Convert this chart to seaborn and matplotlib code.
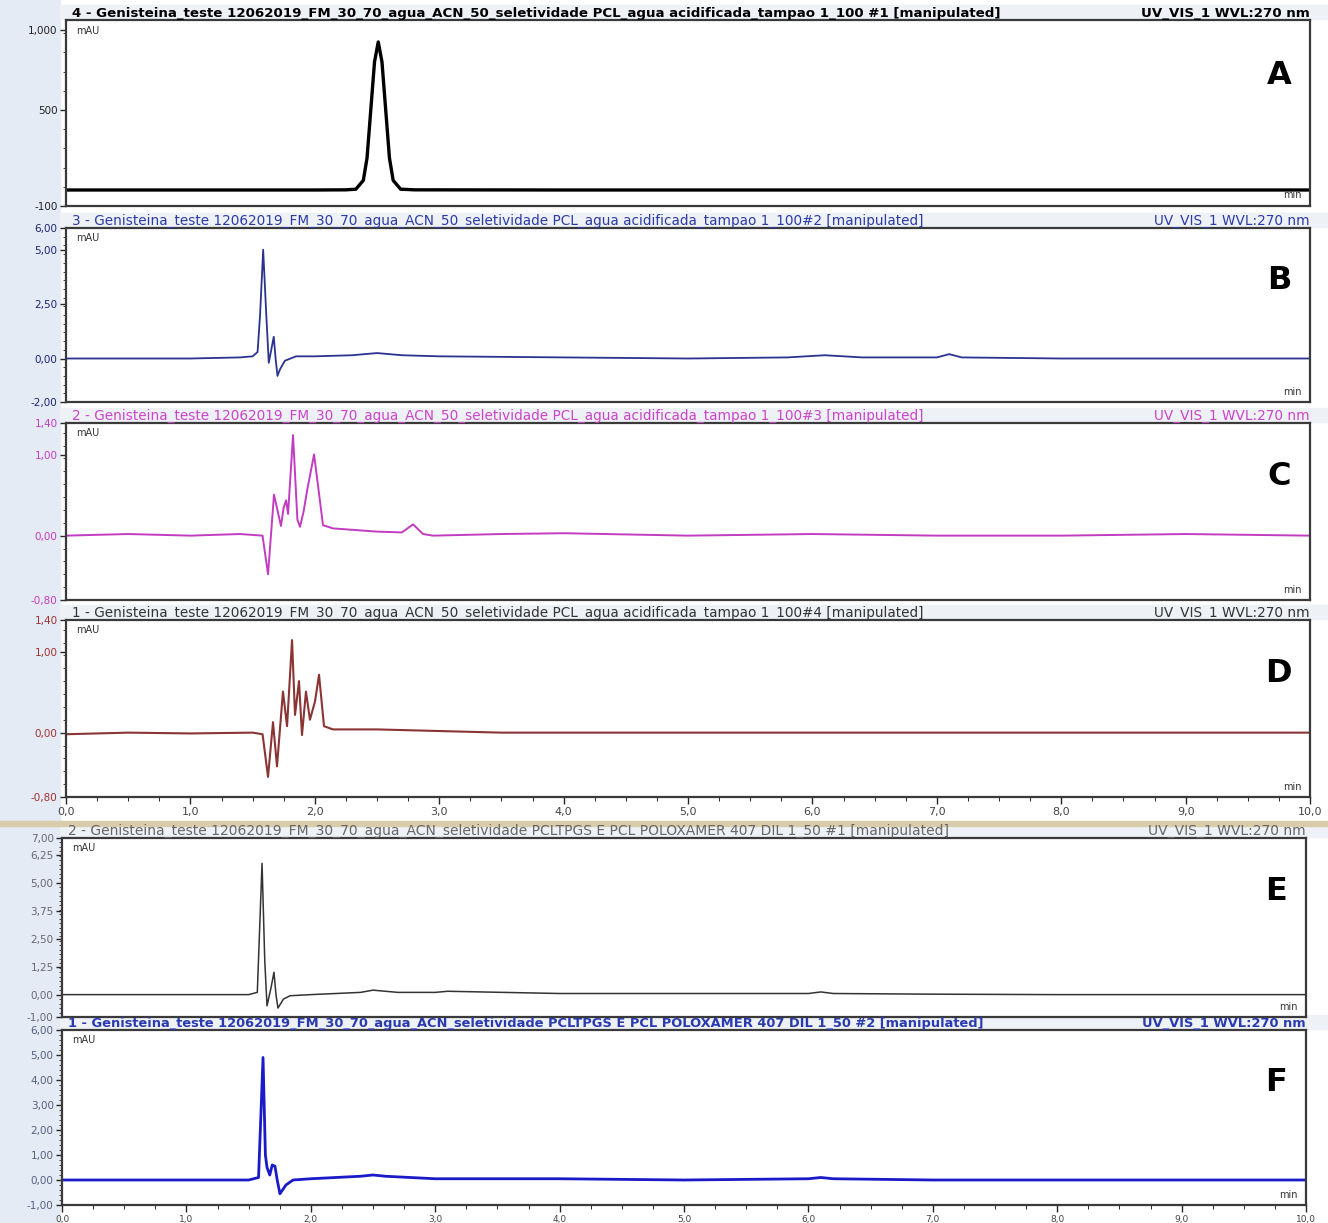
import numpy as np
import pandas as pd
import matplotlib
matplotlib.use("Agg")
import matplotlib.pyplot as plt
import seaborn as sns
from matplotlib.ticker import FixedLocator, AutoMinorLocator, FuncFormatter
from matplotlib.patches import Rectangle

# -----------------------
# Data (retention time in min, signal in mAU)
# -----------------------
a_time = [0.0, 1.0, 2.0, 2.25, 2.33, 2.39, 2.42, 2.45, 2.48, 2.51, 2.54, 2.57, 2.60, 2.63, 2.69, 2.8, 4.0, 6.0, 8.0, 10.0]
a_mau = [0, 0, 0, 1, 5, 60, 200, 500, 800, 925, 800, 500, 200, 60, 5, 1, 0, 0, 0, 0]

b_time = [0.0, 1.0, 1.4, 1.5, 1.54, 1.56, 1.585, 1.61, 1.63, 1.65, 1.67, 1.685, 1.70, 1.72, 1.76, 1.85, 2.0, 2.3, 2.5,
          2.7, 3.0, 4.0, 5.0, 5.8, 6.1, 6.4, 7.0, 7.1, 7.2, 8.0, 9.0, 10.0]
b_mau = [0.0, 0.0, 0.05, 0.1, 0.3, 2.0, 5.0, 2.0, -0.2, 0.4, 1.0, 0.0, -0.8, -0.5, -0.1, 0.1, 0.1, 0.15, 0.25,
         0.15, 0.1, 0.05, 0.0, 0.05, 0.15, 0.05, 0.05, 0.2, 0.05, 0.0, 0.0, 0.0]

c_time = [0.0, 0.5, 1.0, 1.4, 1.58, 1.624, 1.672, 1.728, 1.75, 1.769, 1.785, 1.825, 1.86, 1.881, 1.91, 1.937, 1.994,
          2.066, 2.146, 2.5, 2.7, 2.79, 2.87, 2.95, 3.5, 4.0, 5.0, 6.0, 7.0, 8.0, 9.0, 10.0]
c_mau = [0.0, 0.02, 0.0, 0.02, 0.0, -0.48, 0.51, 0.12, 0.35, 0.44, 0.27, 1.25, 0.2, 0.11, 0.3, 0.55, 1.01,
         0.13, 0.09, 0.05, 0.04, 0.14, 0.02, 0.0, 0.02, 0.03, 0.0, 0.02, 0.0, 0.0, 0.02, 0.0]

d_time = [0.0, 0.5, 1.0, 1.5, 1.58, 1.624, 1.664, 1.696, 1.744, 1.777, 1.817, 1.841, 1.873, 1.897, 1.929, 1.961,
          2.002, 2.034, 2.074, 2.146, 2.5, 3.0, 3.5, 4.0, 5.0, 6.0, 7.0, 8.0, 9.0, 10.0]
d_mau = [-0.02, 0.0, -0.01, 0.0, -0.02, -0.55, 0.13, -0.42, 0.51, 0.08, 1.15, 0.22, 0.64, -0.03, 0.51, 0.16,
         0.39, 0.72, 0.08, 0.04, 0.04, 0.02, 0.0, 0.0, 0.0, 0.0, 0.0, 0.0, 0.0, 0.0]

e_time = [0.0, 1.0, 1.5, 1.57, 1.608, 1.63, 1.648, 1.68, 1.704, 1.72, 1.736, 1.78, 1.833, 2.0, 2.4, 2.5, 2.7, 3.0,
          3.1, 4.0, 5.0, 6.0, 6.1, 6.2, 7.0, 8.0, 9.0, 10.0]
e_mau = [0.0, 0.0, 0.0, 0.1, 5.87, 1.5, -0.5, 0.3, 1.0, 0.0, -0.6, -0.2, -0.05, 0.0, 0.1, 0.2, 0.1, 0.1,
         0.15, 0.05, 0.05, 0.05, 0.12, 0.05, 0.02, 0.0, 0.0, 0.0]

f_time = [0.0, 1.0, 1.5, 1.58, 1.616, 1.635, 1.648, 1.67, 1.69, 1.712, 1.73, 1.752, 1.8, 1.857, 2.0, 2.4, 2.5, 2.6,
          3.0, 4.0, 5.0, 6.0, 6.1, 6.2, 7.0, 8.0, 9.0, 10.0]
f_mau = [0.0, 0.0, 0.0, 0.1, 4.9, 1.0, 0.5, 0.2, 0.6, 0.55, 0.0, -0.55, -0.2, 0.0, 0.05, 0.15, 0.2, 0.15,
         0.05, 0.05, 0.0, 0.05, 0.1, 0.05, 0.0, 0.0, 0.0, 0.0]

panel_letters = ["A", "B", "C", "D", "E", "F"]
headers = [
    "4 - Genisteina_teste 12062019_FM_30_70_agua_ACN_50_seletividade PCL_agua acidificada_tampao 1_100 #1 [manipulated]",
    "3 - Genisteina_teste 12062019_FM_30_70_agua_ACN_50_seletividade PCL_agua acidificada_tampao 1_100#2 [manipulated]",
    "2 - Genisteina_teste 12062019_FM_30_70_agua_ACN_50_seletividade PCL_agua acidificada_tampao 1_100#3 [manipulated]",
    "1 - Genisteina_teste 12062019_FM_30_70_agua_ACN_50_seletividade PCL_agua acidificada_tampao 1_100#4 [manipulated]",
    "2 - Genisteina_teste 12062019_FM_30_70_agua_ACN_seletividade PCLTPGS E PCL POLOXAMER 407 DIL 1_50 #1 [manipulated]",
    "1 - Genisteina_teste 12062019_FM_30_70_agua_ACN_seletividade PCLTPGS E PCL POLOXAMER 407 DIL 1_50 #2 [manipulated]",
]
detector = "UV_VIS_1 WVL:270 nm"
x_ticks = [0, 1, 2, 3, 4, 5, 6, 7, 8, 9, 10]
y_ticks = [
    [-100, 500, 1000],
    [-2, 0, 2.5, 5, 6],
    [-0.8, 0, 1.0, 1.4],
    [-0.8, 0, 1.0, 1.4],
    [-1, 0, 1.25, 2.5, 3.75, 5, 6.25, 7],
    [-1, 0, 1, 2, 3, 4, 5, 6],
]

# -----------------------
# Layout in pixels (left, top, right, bottom)
# -----------------------
W, H = 1328, 1223
boxes = [
    (66, 20, 1310, 206),
    (66, 228, 1310, 402),
    (66, 423, 1310, 600),
    (66, 620, 1310, 797),
    (62, 838, 1306, 1017),
    (62, 1030, 1306, 1205),
]
ylims = [(-100, 1062), (-2, 6), (-0.8, 1.4), (-0.8, 1.4), (-1, 7), (-1, 6)]
line_colors = ["#000000", "#2b3290", "#c23cc2", "#8a3434", "#333333", "#1a1ac8"]
line_widths = [2.4, 1.3, 1.4, 1.5, 1.1, 2.0]
label_colors = ["#222222", "#1c2470", "#c23cc2", "#a03030", "#666677", "#556080"]
header_colors = ["#000000", "#2a3aa8", "#cc44cc", "#333333", "#666666", "#2a3ab0"]
header_sizes = [9.6, 9.8, 9.8, 9.8, 10.0, 9.4]
header_bold = [True, False, False, False, False, True]

traces = [(a_time, a_mau), (b_time, b_mau), (c_time, c_mau),
          (d_time, d_mau), (e_time, e_mau), (f_time, f_mau)]


def fig_rect(l, t, r, b):
    return [l / W, 1 - b / H, (r - l) / W, (b - t) / H]


def fmt_comma(v, i, dec):
    s = f"{v:.{dec}f}".replace(".", ",")
    return s


sns.set_style("white")
plt.rcParams["font.family"] = ["DejaVu Sans"]

fig = plt.figure(figsize=(W / 100, H / 100), dpi=100)

# background bands (behind the axes)
fig.patches.append(Rectangle((0, 0), 60 / W, 1, transform=fig.transFigure,
                             color="#e4ebf4", zorder=-2))
for (l, t, r, b) in boxes:
    fig.patches.append(Rectangle((60 / W, 1 - (t - 1) / H), 1 - 60 / W, 14 / H,
                                 transform=fig.transFigure, color="#eef1f6", zorder=-2))
fig.patches.append(Rectangle((0, 1 - 826 / H), 1, 5 / H, transform=fig.transFigure,
                             color="#d9ccaa", zorder=-2))

for i, (t, y) in enumerate(traces):
    ax = fig.add_axes(fig_rect(*boxes[i]))
    df = pd.DataFrame({"time": t, "mAU": y})
    sns.lineplot(data=df, x="time", y="mAU", ax=ax, color=line_colors[i],
                 lw=line_widths[i], estimator=None)
    ax.set_xlim(0, 10)
    ax.set_ylim(*ylims[i])
    ax.set_xlabel("")
    ax.set_ylabel("")

    for s in ax.spines.values():
        s.set_color("#3a3a3a")
        s.set_linewidth(1.6)

    # y axis
    ax.yaxis.set_major_locator(FixedLocator(y_ticks[i]))
    ax.yaxis.set_minor_locator(AutoMinorLocator(5))
    if i == 0:
        ax.yaxis.set_major_formatter(FuncFormatter(lambda v, p: f"{v:,.0f}"))
    else:
        ax.yaxis.set_major_formatter(FuncFormatter(lambda v, p: fmt_comma(v, p, 2)))
    ax.tick_params(axis="y", which="major", direction="out", length=4, width=1,
                   labelsize=7.5, labelcolor=label_colors[i], pad=2, left=True)
    ax.tick_params(axis="y", which="minor", direction="out", length=2, width=0.6, left=True)

    # x axis
    ax.xaxis.set_major_locator(FixedLocator(x_ticks))
    ax.xaxis.set_minor_locator(AutoMinorLocator(4))
    if i in (3, 5):
        ax.xaxis.set_major_formatter(FuncFormatter(lambda v, p: fmt_comma(v, p, 1)))
        ax.tick_params(axis="x", which="major", direction="out", length=5, width=1,
                       labelsize=8 if i == 3 else 6.5, labelcolor="#444444", pad=2, bottom=True)
        ax.tick_params(axis="x", which="minor", direction="out", length=3, width=0.7, bottom=True)
    else:
        ax.tick_params(axis="x", which="both", bottom=False, labelbottom=False)

    # header line
    weight = "bold" if header_bold[i] else "normal"
    ax.text(0.005, 1.002, headers[i], transform=ax.transAxes, ha="left", va="bottom",
            fontsize=header_sizes[i], color=header_colors[i], fontweight=weight, clip_on=False)
    ax.text(1.0, 1.002, detector, transform=ax.transAxes, ha="right", va="bottom",
            fontsize=header_sizes[i], color=header_colors[i], fontweight=weight, clip_on=False)

    ax.text(0.008, 0.97, "mAU", transform=ax.transAxes, ha="left", va="top",
            fontsize=7, color="#333333")
    ax.text(0.993, 0.03, "min", transform=ax.transAxes, ha="right", va="bottom",
            fontsize=7, color="#333333")
    ax.text(0.985, 0.7, panel_letters[i], transform=ax.transAxes, ha="right", va="center",
            fontsize=23, fontweight="bold", color="#000000")

fig.savefig("out.png", dpi=100)
